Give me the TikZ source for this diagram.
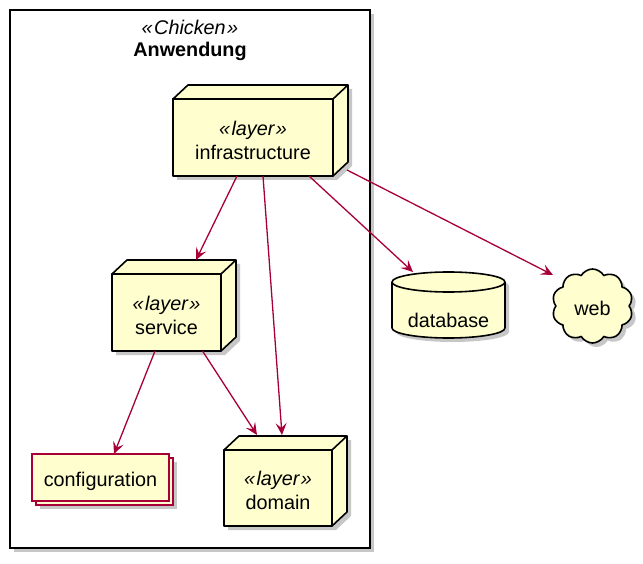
\documentclass[tikz,border=0pt]{standalone}
\usepackage{fontspec}
\setmainfont{Liberation Sans}
\usetikzlibrary{arrows.meta,shapes.symbols,shadows,backgrounds}
\definecolor{nodefill}{HTML}{FEFECE}
\definecolor{linkred}{HTML}{A80036}
\newcommand\layerdepth[1]{%
  \begin{scope}[on background layer]
    \fill[shadowfill] ([shift={(4,4)}]#1.south west) -- ([shift={(4,4)}]#1.north west)
      -- ([shift={(19,-10)}]#1.north west) -- ([shift={(19,-10)}]#1.north east)
      -- ([shift={(19,-10)}]#1.south east) -- ([shift={(4,4)}]#1.south east) -- cycle;
  \end{scope}
  \filldraw[nodeline, fill=nodefill] (#1.north west) -- ([shift={(15,-14)}]#1.north west)
    -- ([shift={(15,-14)}]#1.north east) -- ([shift={(15,-14)}]#1.south east)
    -- (#1.south east) -- (#1.north east) -- cycle;
  \draw[nodeline] (#1.north east) -- ([shift={(15,-14)}]#1.north east);
}
\newcommand\stereo[1]{{\itshape «\kern1.5pt #1\kern1.5pt»}}
\newcommand\lowerby[1]{\rule{0pt}{#1}}
\begin{document}
\begin{tikzpicture}[x=1pt,y=-1pt,
  every node/.style={font=\fontsize{19.8}{24}\selectfont},
  nodeline/.style={draw=black, line width=1.6pt, line join=round},
  layerbox/.style={nodeline, fill=nodefill, rectangle, outer sep=0pt, inner sep=0pt, align=center},
  cfgbox/.style={draw=linkred, line width=1.3pt, fill=nodefill, rectangle, inner sep=0pt, outer sep=0pt, minimum width=137pt, minimum height=47pt},
  link/.style={draw=linkred, line width=1.3pt, -{Stealth[length=12pt,width=11pt,inset=5pt]}},
  shadowfill/.style={fill=black!22},
  myshadow/.style={drop shadow={shadow xshift=4pt, shadow yshift=-4pt, fill=black!22, opacity=1}},
]
\useasboundingbox (0,0) rectangle (643,564);

% frame
\begin{scope}[on background layer]
  \fill[shadowfill] (14,14) rectangle (374,552);
  \draw[line width=1.6pt, fill=white] (10,10) rectangle (370,548);
\end{scope}
\node (stereo) at (190,27) {\stereo{Chicken}};
\node[font=\fontsize{19.8}{24}\selectfont\bfseries] (title) at (190,51) {Anwendung};

% layer nodes
\node[layerbox, minimum width=160pt, minimum height=77pt] (infra) at (253,137.5) {\lowerby{19.5pt}\stereo{layer}\\infrastructure};
\layerdepth{infra}
\node[layerbox, minimum width=109pt, minimum height=77pt] (service) at (166.5,312.5) {\lowerby{19.5pt}\stereo{layer}\\service};
\layerdepth{service}
\node[layerbox, minimum width=108pt, minimum height=76pt] (domain) at (278,488) {\lowerby{19.5pt}\stereo{layer}\\domain};
\layerdepth{domain}

% configuration
\node[cfgbox, myshadow] (config2) at (104.5,481.5) {};
\node[cfgbox] (config) at (100.5,477.5) {\lowerby{22.5pt}configuration};

% database
\node[minimum width=113pt, minimum height=66pt, inner sep=0pt] (db) at (448.5,305) {};
\fill[shadowfill] (396,286) -- (396,332) arc[start angle=180,end angle=360,x radius=56.5pt,y radius=10pt]
  -- (509,286) arc[start angle=0,end angle=180,x radius=56.5pt,y radius=10pt] -- cycle;
\filldraw[nodeline, fill=nodefill] (392,282) -- (392,328) arc[start angle=180,end angle=360,x radius=56.5pt,y radius=10pt]
  -- (505,282) arc[start angle=0,end angle=180,x radius=56.5pt,y radius=10pt] -- cycle;
\draw[nodeline] (392,282) arc[start angle=180,end angle=360,x radius=56.5pt,y radius=10pt];
\node (dblabel) at (448.5,320) {database};

% web
\node[cloud, cloud puffs=10, cloud puff arc=120, aspect=1.1, nodeline, fill=nodefill,
  minimum width=81pt, minimum height=74pt, inner sep=0pt, myshadow] (web) at (592.5,306) {\lowerby{18.5pt}web};

% links
\draw[link] ([xshift=-16pt]infra.south) -- ([shift={(29.5,-52.5)}]service.center);
\draw[link] ([xshift=10pt]infra.south) -- ([shift={(4,-53)}]domain.center);
\draw[link] ([xshift=56pt]infra.south) -- ([shift={(-35.5,-33)}]db.center);
\draw[link] ([shift={(14,-6)}]infra.south east) -- ([shift={(-39.5,-31)}]web.center);
\draw[link] ([xshift=-11.5pt]service.south) -- ([shift={(13.5,-23.5)}]config.center);
\draw[link] ([xshift=36pt]service.south) -- ([shift={(-21,-53)}]domain.center);
\end{tikzpicture}
\end{document}
